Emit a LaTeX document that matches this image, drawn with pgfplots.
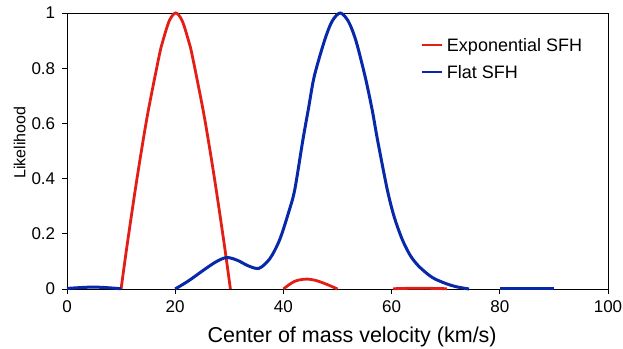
\documentclass[border=0pt]{standalone}
\usepackage{pgfplots}
\pgfplotsset{compat=1.18}
\usepackage{fontspec}
\setmainfont{Liberation Sans}
\definecolor{cred}{RGB}{226,30,22}
\definecolor{cblue}{RGB}{8,40,170}
\begin{document}
\fontsize{17}{20}\selectfont
\begin{tikzpicture}
\begin{axis}[
  name=ax,
  scale only axis,
  width=541pt, height=276pt,
  xmin=0, xmax=100, ymin=0, ymax=1,
  xtick={0,20,40,60,80,100},
  ytick={0,0.2,0.4,0.6,0.8,1},
  tick align=outside,
  major tick length=5pt,
  tick style={black, line width=0.8pt},
  axis line style={black, line width=0.8pt},
  xtick pos=bottom, ytick pos=left,
  /pgf/number format/assume math mode=true,
  tick label style={font=\fontsize{17}{20}\selectfont},
  yticklabel style={/pgf/number format/fixed, xshift=-1pt},
  xticklabel style={yshift=-1pt},
  xlabel={\fontsize{21.5}{26}\selectfont Center of mass velocity (km/s)},
  ylabel={\fontsize{16}{19}\selectfont Likelihood},
  xlabel style={at={(axis description cs:0.527,-0.195)}, anchor=base},
  ylabel style={at={(axis description cs:-0.077,0.53)}, anchor=base},
  clip=false,
]
\addplot[cred, line width=2.8pt, smooth] coordinates {
(10,0) (10.19,0.028) (11.09,0.156) (12.56,0.352) (13.75,0.5) (15.04,0.648) (17.03,0.844) (17.68,0.896) (18.91,0.972) (20.1,1)
(21.29,0.972) (22.52,0.896) (23.17,0.844) (25.16,0.648) (26.45,0.5) (27.64,0.352) (29.11,0.156) (30.01,0.028) (30.2,0)};
\addplot[cblue, line width=3pt, smooth] coordinates {
(20,0) (22.5,0.03) (25,0.065) (27.5,0.098) (29.5,0.114) (31.5,0.104) (33.5,0.084) (35.5,0.075) (37.5,0.11) (39.3,0.178) (41,0.28) (42.1,0.36) (43.6,0.54) (44.6,0.65) (45.7,0.77) (47.6,0.9) (49,0.97) (50.5,1) (52,0.97) (53.4,0.9) (55.1,0.77) (56.4,0.65) (57.4,0.54) (59.2,0.36) (60.5,0.26) (62,0.178) (63.5,0.12) (65.1,0.081) (67.5,0.042) (70,0.02) (72,0.008) (74.3,0)};
\addplot[cred, line width=2.8pt, smooth] coordinates {
(40,0) (41,0.015) (42,0.027) (43,0.033) (44.4,0.036) (46,0.031) (48,0.017) (50,0)};
\addplot[cred, line width=2.8pt, smooth] coordinates {
(60.3,0.001) (65,0.003) (70.2,0.001)};
\addplot[cblue, line width=3pt, smooth] coordinates {
(0,0.002) (5,0.007) (10,0.001)};
\addplot[cblue, line width=3pt] coordinates {
(80,0.001) (85,0.001) (90,0.001)};
% legend
\draw[cred, line width=1.5pt] (axis cs:65.6,0.884) -- (axis cs:69.3,0.884);
\node[anchor=base west, inner sep=0pt, font=\fontsize{18}{21}\selectfont] at (axis cs:70.2,0.861) {Exponential SFH};
\draw[cblue, line width=1.5pt] (axis cs:65.6,0.786) -- (axis cs:69.3,0.786);
\node[anchor=base west, inner sep=0pt, font=\fontsize{18}{21}\selectfont] at (axis cs:70.2,0.763) {Flat SFH};
\end{axis}
\pgfresetboundingbox
\path ([xshift=-67pt,yshift=-59pt]ax.south west) rectangle ([xshift=15pt,yshift=13pt]ax.north east);
\end{tikzpicture}
\end{document}
